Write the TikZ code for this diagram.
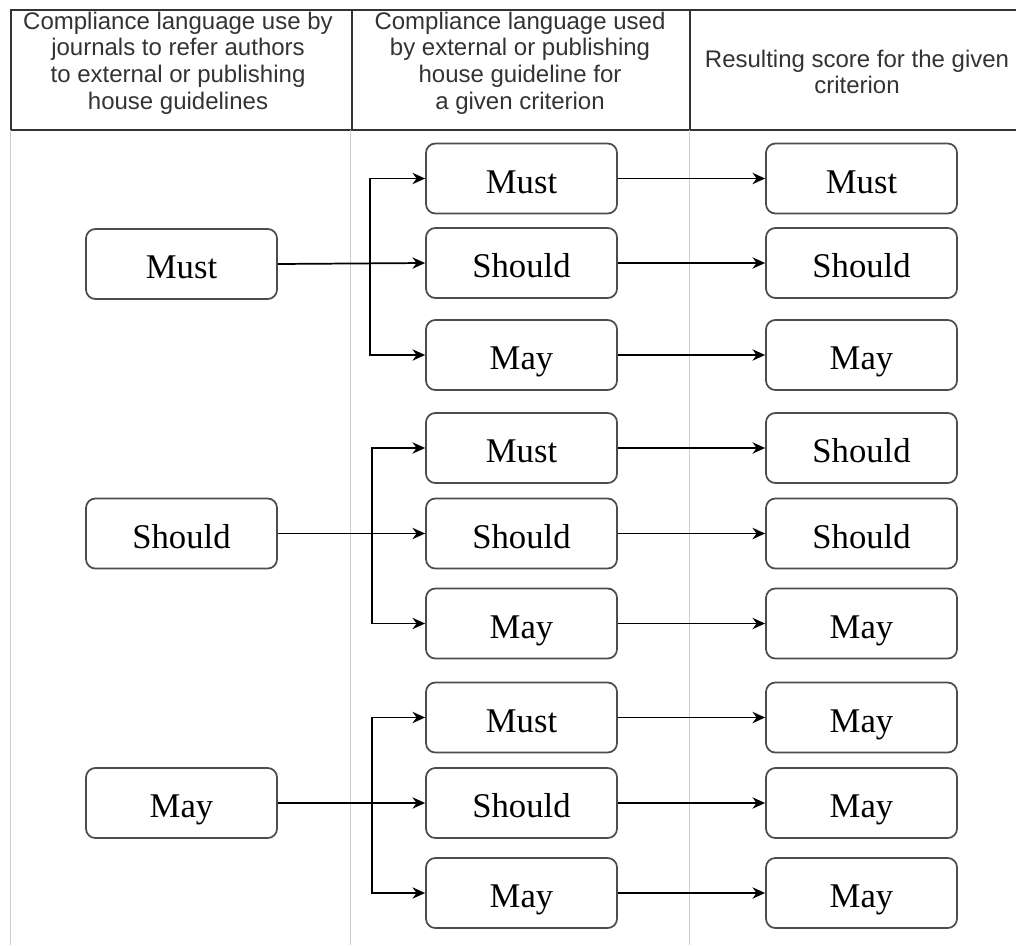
\documentclass[tikz,border=0pt]{standalone}
\usepackage{fontspec}
\setmainfont{Liberation Serif}
\newfontfamily\hdr{Liberation Sans}
\usetikzlibrary{arrows.meta}
\begin{document}
\begin{tikzpicture}[x=0.75pt,y=-0.75pt,
 hline/.style={draw=black!80, line width=1.4pt},
 vline/.style={draw=black!20, line width=0.75pt},
 box/.style={draw=black!70, line width=1.3pt, rounded corners=7pt, minimum width=143.25pt, minimum height=52.5pt, font=\fontsize{26}{30}\selectfont, inner sep=0pt, text height=21.8pt, text depth=0pt},
 htext/.style={font=\hdr\fontsize{18}{20}\selectfont, text=black!80, align=center, inner sep=0pt},
 arr/.style={-{Stealth[length=9.5pt,width=8.5pt]}, line width=1.3pt, black}
]
\useasboundingbox (0,0) rectangle (1016,945);
% header frame
\draw[hline] (1016,10) -- (11,10) -- (11,130) -- (1016,130);
\draw[hline] (352,10) -- (352,130);
\draw[hline] (690,10) -- (690,130);
% body lanes
\draw[vline] (10,130) -- (10,945);
\draw[vline] (350,130) -- (350,945);
\draw[vline] (689,130) -- (689,945);
% header texts
\node[htext] (h1) at (178,63) {Compliance language use by\\journals to refer authors\\to external or publishing\\house guidelines};
\node[htext] (h2) at (520,63) {Compliance language used\\by external or publishing\\house guideline for\\a given criterion};
\node[htext] (h3) at (857,72) {Resulting score for the given\\criterion};
% left boxes
\node[box] (L1) at (181.5,264) {Must};
\node[box] (L2) at (181.5,533.5) {Should};
\node[box] (L3) at (181.5,803) {May};
% middle boxes
\node[box] (M11) at (521.5,178.5) {Must};
\node[box] (M12) at (521.5,263) {Should};
\node[box] (M13) at (521.5,355) {May};
\node[box] (M21) at (521.5,448) {Must};
\node[box] (M22) at (521.5,533.5) {Should};
\node[box] (M23) at (521.5,623.5) {May};
\node[box] (M31) at (521.5,717.5) {Must};
\node[box] (M32) at (521.5,803) {Should};
\node[box] (M33) at (521.5,893) {May};
% right boxes
\node[box] (R11) at (861.5,178.5) {Must};
\node[box] (R12) at (861.5,263) {Should};
\node[box] (R13) at (861.5,355) {May};
\node[box] (R21) at (861.5,448) {Should};
\node[box] (R22) at (861.5,533.5) {Should};
\node[box] (R23) at (861.5,623.5) {May};
\node[box] (R31) at (861.5,717.5) {May};
\node[box] (R32) at (861.5,803) {May};
\node[box] (R33) at (861.5,893) {May};
% junctions
\coordinate (j1) at (370,263);
\coordinate (j2) at (372,533.5);
\coordinate (j3) at (372,803);
% connectors left -> middle
\draw[arr] (L1.east) -- (M12.west);
\draw[arr] (j1) |- (M11.west);
\draw[arr] (j1) |- (M13.west);
\draw[arr] (L2.east) -- (M22.west);
\draw[arr] (j2) |- (M21.west);
\draw[arr] (j2) |- (M23.west);
\draw[arr] (L3.east) -- (M32.west);
\draw[arr] (j3) |- (M31.west);
\draw[arr] (j3) |- (M33.west);
% connectors middle -> right
\foreach \g in {1,2,3}{
  \foreach \k in {1,2,3}{
    \draw[arr] (M\g\k.east) -- (R\g\k.west);
  }
}
\end{tikzpicture}
\end{document}
